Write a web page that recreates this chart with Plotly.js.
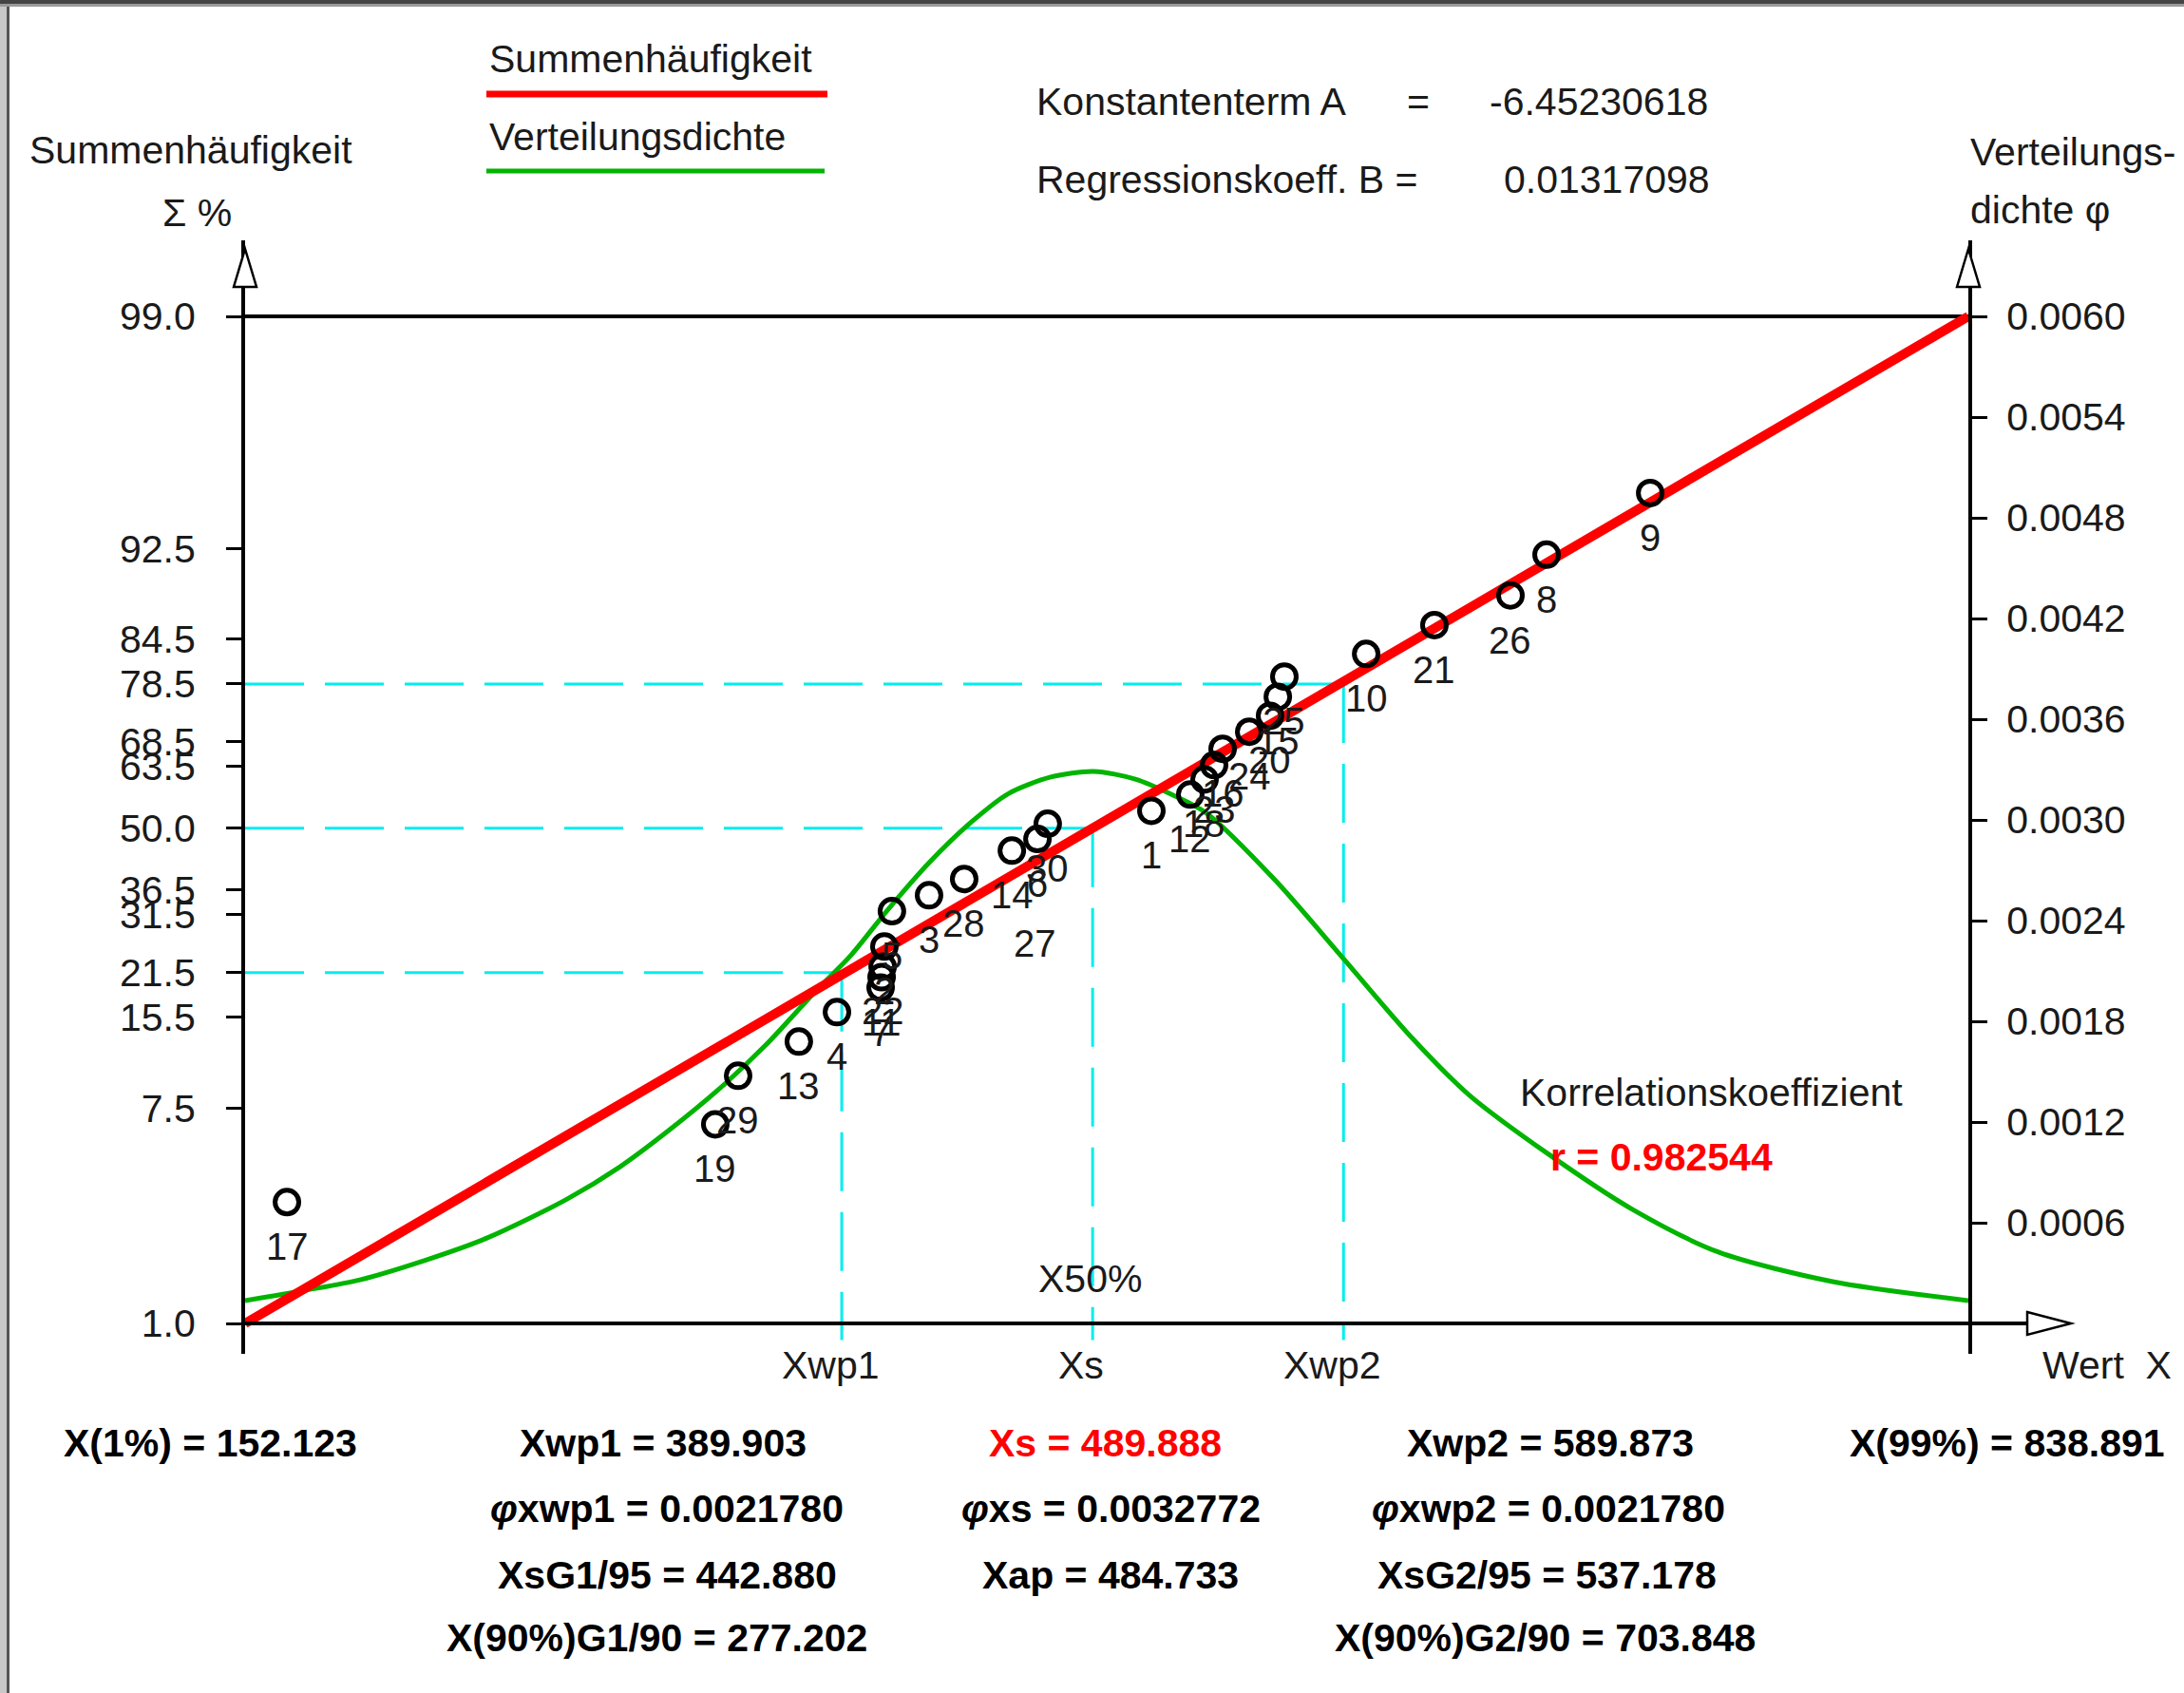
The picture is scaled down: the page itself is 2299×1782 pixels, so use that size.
<!DOCTYPE html>
<html><head><meta charset="utf-8">
<script src="https://cdn.plot.ly/plotly-3.0.1.min.js"></script>
<style>html,body{margin:0;padding:0;background:#fff;overflow:hidden}#chart{width:2299px;height:1782px}</style>
</head><body><div id="chart"></div>
<script>
// ===== data =====
const pointLabels = ['17','19','29','13','4','7','11','22','2','5','3','28','14','6','30','1','12','18','23','16','24','20','15','25','10','21','26','8','9'];
const pointX   = [168.8,339.5,348.6,372.8,388.0,405.4,405.8,406.2,406.9,409.9,424.7,438.7,457.7,467.9,472.0,513.3,528.8,534.5,538.3,541.7,552.3,560.6,563.7,566.3,598.9,626.1,656.4,670.8,712.1];
const pointPct = [3.37,6.55,9.78,12.84,16.1,19.3,20.8,22.4,25.7,32.2,35.4,38.8,45.0,47.6,51.0,53.9,57.5,60.8,63.8,67.1,70.4,73.3,76.5,79.6,82.7,86.1,89.0,92.1,95.3];
const looseLabels = ['27'];
const looseLabelX = [467.0];
const looseLabelPct = [26.3];

const regX   = [152.123, 838.891];
const regPct = [1.16, 99.0];

const densX = [152.1,176.4,197.9,224.4,248.7,280.1,301.7,321.0,340.3,359.6,378.9,393.7,408.1,425.1,441.7,456.5,473.2,490.2,506.9,521.6,535.3,562.5,589.8,617.0,639.7,671.6,705.6,739.3,784.8,838.9];
const densY = [0.000136,0.000198,0.000260,0.000379,0.000510,0.000738,0.000935,0.001150,0.001387,0.001658,0.001970,0.002196,0.002462,0.002751,0.002989,0.003158,0.003255,0.003289,0.003243,0.003150,0.003040,0.002643,0.002174,0.001704,0.001364,0.001008,0.000674,0.000425,0.000249,0.000136];

const yTickPct  = [99.0, 92.5, 84.5, 78.5, 68.5, 63.5, 50.0, 36.5, 31.5, 21.5, 15.5, 7.5, 1.16];
const yTickText = ['99.0','92.5','84.5','78.5','68.5','63.5','50.0','36.5','31.5','21.5','15.5','7.5','1.0'];
const y2TickVals = [0.0006,0.0012,0.0018,0.0024,0.0030,0.0036,0.0042,0.0048,0.0054,0.0060];

const xMin = 152.123, xMax = 838.891;
const Xwp1 = 389.903, Xs = 489.888, Xwp2 = 589.873;
const cyanPct = [21.5, 50.0, 78.5];
const cyanX   = [Xwp1, Xs, Xwp2];
const cyanBottomPct = 1.0;

const konstA = '-6.45230618', koeffB = '0.01317098', corrR = '0.982544';
const statRows = [
  [['X(1%) = 152.123',221],['Xwp1 = 389.903',698],['Xs = 489.888',1163,'red'],['Xwp2 = 589.873',1632],['X(99%) = 838.891',2113]],
  [['<i>φ</i>xwp1 = 0.0021780',702],['<i>φ</i>xs = 0.0032772',1169],['<i>φ</i>xwp2 = 0.0021780',1630]],
  [['XsG1/95 = 442.880',702],['Xap = 484.733',1169],['XsG2/95 = 537.178',1628]],
  [['X(90%)G1/90 = 277.202',691],['X(90%)G2/90 = 703.848',1626]]
];
const statRowY = [1519,1588,1658,1724];

// ===== geometry =====
const W=2299, H=1782;
const PL=258, PR=2072, PT=253, PB=1425;      // plot area in px
const AX_TOP=333, AX_BOT=1393;               // 99% line and x axis line
const FONT='"Liberation Sans", Arial, sans-serif';
const logit = p => Math.log(p/(100-p));
const LT = logit(regPct[1]), LB = logit(regPct[0]);
const ppu = (AX_BOT-AX_TOP)/(LT-LB);
const yRange = [LB-(PB-AX_BOT)/ppu, LT+(AX_TOP-PT)/ppu];
const ppu2 = (AX_BOT-AX_TOP)/0.006;
const y1Range = [-(PB-AX_BOT)/ppu2, 0.006+(AX_TOP-PT)/ppu2];
const px = v => (v-PL)/(PR-PL);
const py = v => (PB-v)/(PB-PT);
const yPaperOfL = L => (L-yRange[0])/(yRange[1]-yRange[0]);

// ===== traces =====
const traces = [
  {x:densX, y:densY, xaxis:'x', yaxis:'y', mode:'lines', line:{color:'#00b400', width:5, shape:'spline', smoothing:0.8}, hoverinfo:'skip'},
  {x:regX, y:regPct.map(logit), xaxis:'x', yaxis:'y2', mode:'lines', line:{color:'#ff0000', width:10}, hoverinfo:'skip'},
  {x:pointX, y:pointPct.map(logit), xaxis:'x', yaxis:'y2', mode:'markers',
   marker:{symbol:'circle-open', size:25, color:'#000', line:{width:5, color:'#000'}}, cliponaxis:false, hoverinfo:'skip'}
];

// ===== shapes =====
const shapes = [];
for (let i=0;i<cyanPct.length;i++){
  const d = {color:'#00eeee', width:3, dash:'62px,22px'};
  shapes.push({type:'line', xref:'x', yref:'y2', x0:xMin, x1:cyanX[i], y0:logit(cyanPct[i]), y1:logit(cyanPct[i]), line:d, layer:'below'});
  shapes.push({type:'line', xref:'x', yref:'y2', x0:cyanX[i], x1:cyanX[i], y0:logit(cyanPct[i]), y1:logit(cyanBottomPct), line:d, layer:'below'});
}
shapes.push({type:'line', xref:'x', yref:'y2', x0:xMin, x1:xMax, y0:LT, y1:LT, line:{color:'#000', width:4}, layer:'below'});
const yAx = yPaperOfL(LB);
shapes.push({type:'line', xref:'paper', yref:'paper', x0:0, x1:px(2176), y0:yAx, y1:yAx, line:{color:'#000', width:4}});
shapes.push({type:'path', xref:'paper', yref:'paper', path:`M ${px(2134)} ${py(1381)} L ${px(2180)} ${py(1393)} L ${px(2134)} ${py(1405)} Z`, fillcolor:'#fff', line:{color:'#000', width:2.5}});
[PL, PR].forEach(xx=>{
  shapes.push({type:'path', xref:'paper', yref:'paper', path:`M ${px(xx-12)} ${py(302)} L ${px(xx)} ${py(262)} L ${px(xx+12)} ${py(302)} Z`, fillcolor:'#fff', line:{color:'#000', width:2.5}});
});
shapes.push({type:'line', xref:'paper', yref:'paper', x0:px(512), x1:px(871), y0:py(99), y1:py(99), line:{color:'#ff0000', width:7}});
shapes.push({type:'line', xref:'paper', yref:'paper', x0:px(512), x1:px(868), y0:py(180), y1:py(180), line:{color:'#00b400', width:5}});
shapes.push({type:'rect', xref:'paper', yref:'paper', x0:px(0), x1:px(7), y0:py(H), y1:py(0), fillcolor:'#c8c8c8', line:{width:0}});
shapes.push({type:'line', xref:'paper', yref:'paper', x0:px(8.5), x1:px(8.5), y0:py(H), y1:py(6), line:{color:'#555', width:3}});
shapes.push({type:'rect', xref:'paper', yref:'paper', x0:px(0), x1:px(W), y0:py(7), y1:py(0), fillcolor:'#9a9a9a', line:{width:0}});
shapes.push({type:'line', xref:'paper', yref:'paper', x0:px(0), x1:px(W), y0:py(2), y1:py(2), line:{color:'#444', width:4}});

// ===== annotations =====
const ann = [];
function txt(text, x, y, xanchor, opt){
  opt = opt||{};
  ann.push(Object.assign({text:text, xref:'paper', yref:'paper', x:px(x), y:py(y), xanchor:xanchor, yanchor:'middle', showarrow:false,
    font:{family:FONT, size:opt.size||41, color:opt.color||'#1a1a1a'}}, opt.extra||{}));
}
txt('Summenhäufigkeit', 29, 158, 'left');
txt('Σ %', 207, 224, 'center');
txt('Summenhäufigkeit', 513, 62, 'left');
txt('Verteilungsdichte', 513, 144, 'left');
txt('Konstantenterm A', 1089, 107, 'left');
txt('=', 1493, 107, 'center');
txt(konstA, 1566, 107, 'left');
txt('Regressionskoeff. B =', 1089, 189, 'left');
txt(koeffB, 1581, 189, 'left');
txt('Verteilungs-', 2072, 160, 'left');
txt('dichte φ', 2072, 221, 'left');
txt('Wert  X', 2148, 1437, 'left');
txt('Korrelationskoeffizient', 1598, 1150, 'left');
txt('<b>r = ' + corrR + '</b>', 1630, 1218, 'left', {color:'#ff0000'});
[['Xwp1',Xwp1],['Xs',Xs],['Xwp2',Xwp2]].forEach(([t,v])=>{
  ann.push({text:t, xref:'x', yref:'paper', x:v, y:py(1437), xanchor:'center', yanchor:'middle', xshift:-12, showarrow:false,
    font:{family:FONT, size:41, color:'#1a1a1a'}});
});
ann.push({text:'X50%', xref:'x', yref:'paper', x:Xs, y:py(1346), xanchor:'center', yanchor:'middle', xshift:-3, showarrow:false,
  font:{family:FONT, size:41, color:'#1a1a1a'}});
statRows.forEach((row,i)=>{
  row.forEach(([t,cx,col])=>{
    txt('<b>'+t+'</b>', cx, statRowY[i], 'center', {color: col==='red' ? '#ff0000' : '#000'});
  });
});
pointLabels.forEach((t,i)=>{
  ann.push({text:t, xref:'x', yref:'y2', x:pointX[i], y:logit(pointPct[i]), yshift:-47, xanchor:'center', yanchor:'middle', showarrow:false,
    font:{family:FONT, size:40, color:'#1a1a1a'}});
});
looseLabels.forEach((t,i)=>{
  ann.push({text:t, xref:'x', yref:'y2', x:looseLabelX[i], y:logit(looseLabelPct[i]), xanchor:'center', yanchor:'middle', showarrow:false,
    font:{family:FONT, size:40, color:'#1a1a1a'}});
});

const tickFont = {family:FONT, size:41, color:'#1a1a1a'};
const layout = {
  width:W, height:H, margin:{l:PL, r:W-PR, t:PT, b:H-PB, pad:0},
  paper_bgcolor:'#fff', plot_bgcolor:'#fff', showlegend:false,
  xaxis:{range:[xMin,xMax], showticklabels:false, showgrid:false, zeroline:false, showline:false, ticks:'', fixedrange:true},
  yaxis:{range:y1Range, side:'right', tickvals:y2TickVals, ticktext:y2TickVals.map(v=>v.toFixed(4)),
    ticks:'outside', ticklen:16, tickwidth:3, tickcolor:'#000', showline:true, linewidth:4, linecolor:'#000',
    showgrid:false, zeroline:false, tickfont:tickFont, ticklabelstandoff:12, automargin:false},
  yaxis2:{range:yRange, side:'left', overlaying:'y', anchor:'x', tickvals:yTickPct.map(logit), ticktext:yTickText,
    ticks:'outside', ticklen:16, tickwidth:3, tickcolor:'#000', showline:true, linewidth:4, linecolor:'#000',
    showgrid:false, zeroline:false, tickfont:tickFont, ticklabelstandoff:24, automargin:false},
  shapes:shapes, annotations:ann
};
Plotly.newPlot('chart', traces, layout, {staticPlot:true, displayModeBar:false});
</script></body></html>
